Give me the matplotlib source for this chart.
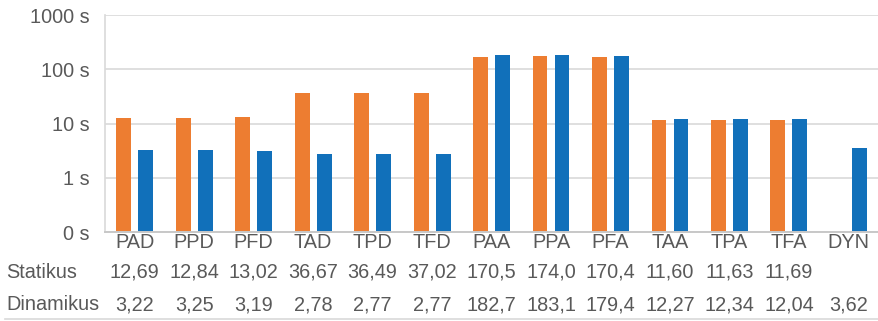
import numpy as np
from matplotlib import pyplot as plt
from matplotlib.ticker import FixedLocator, FuncFormatter
from matplotlib.transforms import blended_transform_factory

categories = ['PAD', 'PPD', 'PFD', 'TAD', 'TPD', 'TFD', 'PAA', 'PPA', 'PFA', 'TAA', 'TPA', 'TFA', 'DYN']
statikus = [12.69, 12.84, 13.02, 36.67, 36.49, 37.02, 170.5, 174.0, 170.4, 11.60, 11.63, 11.69, None]
dinamikus = [3.22, 3.25, 3.19, 2.78, 2.77, 2.77, 182.7, 183.1, 179.4, 12.27, 12.34, 12.04, 3.62]
statikus_labels = ['12,69', '12,84', '13,02', '36,67', '36,49', '37,02', '170,5', '174,0', '170,4',
                   '11,60', '11,63', '11,69', '']
dinamikus_labels = ['3,22', '3,25', '3,19', '2,78', '2,77', '2,77', '182,7', '183,1', '179,4',
                    '12,27', '12,34', '12,04', '3,62']
y_ticks = [0.1, 1, 10, 100, 1000]
y_tick_labels = ['0 s', '1 s', '10 s', '100 s', '1000 s']

ORANGE = '#ED7D31'
BLUE = '#1170BA'
TEXT = '#595959'
GRID = '#D9D9D9'
FS = 14.3

plt.rcParams['font.family'] = ['Liberation Sans', 'DejaVu Sans']

fig = plt.figure(figsize=(8.79, 3.21), dpi=100)
ax = fig.add_axes([0.1195, 0.277, 0.8795, 0.676])

x = np.arange(len(categories))
stat = np.array([np.nan if v is None else v for v in statikus], dtype=float)
dyn = np.array(dinamikus, dtype=float)
width = 0.25
offset = 0.185
ax.bar(x - offset, stat, width, color=ORANGE, zorder=2)
ax.bar(x + offset, dyn, width, color=BLUE, zorder=2)

ax.set_yscale('log')
ax.set_ylim(0.1, 1000)
ax.set_xlim(-0.5, len(categories) - 0.5)
ax.yaxis.set_major_locator(FixedLocator(y_ticks))
ax.yaxis.set_major_formatter(FuncFormatter(lambda v, _: y_tick_labels[y_ticks.index(v)] if v in y_ticks else ''))
ax.yaxis.set_minor_locator(FixedLocator([]))
ax.tick_params(axis='y', length=0, pad=11, labelsize=FS, labelcolor=TEXT)
ax.set_xticks(x)
ax.set_xticklabels(categories)
ax.tick_params(axis='x', length=0, pad=1, labelsize=FS, labelcolor=TEXT)
ax.grid(axis='y', color=GRID, linewidth=1.2, zorder=0)

for side in ('top', 'right'):
    ax.spines[side].set_visible(False)
ax.spines['left'].set_color(GRID)
ax.spines['left'].set_linewidth(1.2)
ax.spines['bottom'].set_color('#C8C8C8')
ax.spines['bottom'].set_linewidth(1.4)

# data table under the category labels
trans = blended_transform_factory(ax.transData, fig.transFigure)
rows = [('Statikus', statikus_labels, 1 - 272 / 321), ('Dinamikus', dinamikus_labels, 1 - 305 / 321)]
for name, labels, ypos in rows:
    fig.text(0.007, ypos, name, ha='left', va='center', fontsize=FS, color=TEXT)
    for xi, label in zip(x, labels):
        ax.text(xi, ypos, label, transform=trans, ha='center', va='center',
                fontsize=FS, color=TEXT, clip_on=False)

fig.add_artist(plt.Line2D([0.006, 1.0], [1 - 318.5 / 321] * 2, transform=fig.transFigure,
                          color=GRID, linewidth=1.2))

fig.savefig('out.png', dpi=100)
